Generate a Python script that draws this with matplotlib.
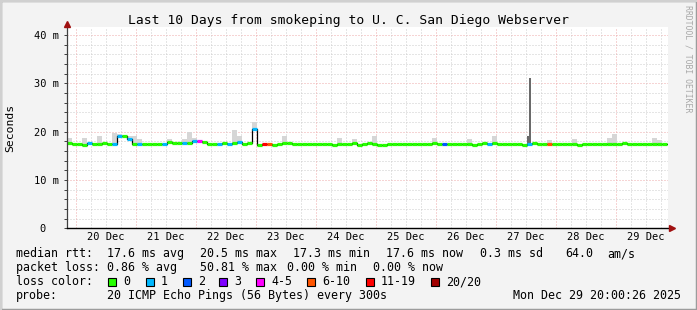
import numpy as np
import matplotlib

matplotlib.use("Agg")
import matplotlib.pyplot as plt
from matplotlib.patches import Rectangle

plt.rcParams["font.family"] = "DejaVu Sans Mono"

W, H = 697, 310

# x axis is "day of December 2025"; 2 hour bins starting 19 Dec ~20:24
start_day = 19.85
bin_days = 2 / 24

median_ms = [
    17.7, 17.5, 17.5, 17.3, 17.7, 17.5, 17.5, 17.7, 17.5, 17.5, 19.0, 19.0,
    18.5, 17.5, 17.5, 17.5, 17.5, 17.5, 17.5, 17.5, 17.8, 17.7, 17.7, 17.7,
    17.7, 18.1, 18.1, 17.9, 17.5, 17.5, 17.5, 17.7, 17.5, 17.7, 17.8, 17.5,
    17.7, 20.5, 17.3, 17.5, 17.5, 17.2, 17.5, 17.7, 17.7, 17.5, 17.5, 17.5,
    17.5, 17.5, 17.5, 17.5, 17.5, 17.3, 17.5, 17.5, 17.5, 17.7, 17.3, 17.5,
    17.7, 17.5, 17.3, 17.3, 17.5, 17.5, 17.5, 17.5, 17.5, 17.5, 17.5, 17.5,
    17.5, 17.7, 17.5, 17.5, 17.5, 17.5, 17.5, 17.5, 17.5, 17.3, 17.5, 17.7,
    17.5, 17.7, 17.5, 17.5, 17.5, 17.5, 17.5, 17.2, 17.5, 17.7, 17.5, 17.5,
    17.5, 17.5, 17.5, 17.5, 17.5, 17.5, 17.3, 17.5, 17.5, 17.5, 17.5, 17.5,
    17.5, 17.5, 17.5, 17.7, 17.5, 17.5, 17.5, 17.5, 17.5, 17.5, 17.5, 17.5,
]

# index into loss_names for every bin
loss_level = [
    0, 0, 0, 0, 1, 0, 0, 0, 0, 1, 1, 0,
    1, 0, 1, 0, 0, 0, 0, 1, 0, 0, 0, 1,
    0, 1, 4, 0, 0, 0, 1, 0, 1, 0, 1, 0,
    0, 1, 0, 6, 5, 0, 0, 0, 0, 0, 0, 0,
    0, 0, 0, 0, 0, 0, 0, 0, 0, 0, 0, 0,
    0, 0, 0, 0, 0, 0, 0, 0, 0, 0, 0, 0,
    0, 0, 0, 2, 0, 0, 0, 0, 0, 0, 0, 0,
    1, 0, 0, 0, 0, 0, 0, 0, 1, 0, 0, 0,
    5, 0, 0, 0, 0, 0, 0, 0, 0, 0, 0, 0,
    0, 0, 0, 0, 0, 0, 0, 0, 0, 0, 0, 0,
]

# light smoke (spread of the pings) above the median
smoke_bins = [0, 3, 6, 9, 10, 11, 12, 13, 14, 20, 23, 24, 25, 33, 34, 37, 43,
              54, 57, 61, 73, 80, 85, 96, 101, 108, 109, 117, 118]
smoke_top_ms = [18.6, 18.6, 19.1, 19.7, 19.6, 19.4, 19.1, 19.0, 18.4, 18.5,
                18.4, 19.9, 18.6, 20.3, 19.0, 22.0, 19.1, 18.6, 18.5, 19.0,
                18.7, 18.4, 19.1, 18.2, 18.4, 18.7, 19.5, 18.7, 18.3]

# dense smoke and single outlier on 27 Dec
dark_bins = [92]
dark_top_ms = [19.0]
peak_bins = [92]
peak_top_ms = [31.1]

day_labels = ["20 Dec", "21 Dec", "22 Dec", "23 Dec", "24 Dec",
              "25 Dec", "26 Dec", "27 Dec", "28 Dec", "29 Dec"]
y_ticks = [0, 10, 20, 30, 40]
y_labels = ["0  ", "10 m", "20 m", "30 m", "40 m"]

loss_names = ["0", "1", "2", "3", "4-5", "6-10", "11-19", "20/20"]
loss_colors = ["#26ff00", "#00b8ff", "#0059ff", "#7e00ff",
               "#ff00ff", "#ff5500", "#ff0000", "#a10000"]


def fx(x):
    return x / W


def fy(y):
    return 1 - y / H


fig = plt.figure(figsize=(W / 100, H / 100), dpi=100, facecolor="#f3f3f3")

# 3d-ish frame around the image
fig.add_artist(Rectangle((0, 0), 1, 1, transform=fig.transFigure,
                         facecolor="none", edgecolor="#9c9c9c", lw=2.5))
fig.add_artist(Rectangle((0, fy(2)), 1, 2 / H, transform=fig.transFigure,
                         facecolor="#d0d0d0", lw=0))
fig.add_artist(Rectangle((0, 0), 2 / W, 1, transform=fig.transFigure,
                         facecolor="#d0d0d0", lw=0))

x0, x1 = 67, 668
y_zero, y_top = 228.3, 27
ax = fig.add_axes([fx(x0), fy(y_zero), (x1 - x0) / W, (y_zero - y_top) / H])
ax.set_facecolor("white")
ax.set_xlim(start_day, start_day + (x1 - x0) / 60)
ax.set_ylim(0, (y_zero - y_top) / 4.8325)
for side in ax.spines.values():
    side.set_visible(False)

# grid: red every 10 m / midnight, grey every 2 m / 6 h
grid_style = dict(lw=0.72, linestyle=(0, (1, 2)), zorder=0.5)
for v in np.arange(2, 42, 2):
    ax.axhline(v, color="#eeaaaa" if v % 10 == 0 else "#cccccc", **grid_style)
for d in np.arange(20, 30, 0.25):
    ax.axvline(d, color="#eeaaaa" if d % 1 == 0 else "#cccccc", **grid_style)

edges = start_day + bin_days * np.arange(len(median_ms) + 1)
median = np.array(median_ms)

# smoke
smoke_base = median[smoke_bins]
ax.bar(edges[smoke_bins], np.array(smoke_top_ms) - smoke_base, width=bin_days,
       bottom=smoke_base, align="edge", color="#d6d6d6", lw=0, zorder=1)
dark_base = median[dark_bins]
ax.bar(edges[dark_bins], np.array(dark_top_ms) - dark_base, width=bin_days * 0.8,
       bottom=dark_base, align="edge", color="#6a6a6a", lw=0, zorder=1.1)
peak_base = median[peak_bins]
ax.bar(edges[peak_bins] + bin_days * 0.4, np.array(peak_top_ms) - peak_base,
       width=bin_days * 0.4, bottom=peak_base, align="edge", color="#6a6a6a",
       lw=0, zorder=1.1)

# median: thin black step line, then loss-coloured segments over it
ax.step(edges, np.append(median, median[-1]), where="post", color="black",
        lw=0.9, zorder=2)
ax.hlines(median, edges[:-1], edges[1:],
          colors=[loss_colors[k] for k in loss_level], lw=2.3,
          capstyle="butt", zorder=3)

# axes with arrow heads
ax.plot([0, 0], [0, (y_zero - 24) / (y_zero - y_top)], transform=ax.transAxes,
        color="#404040", lw=0.9, clip_on=False, zorder=4)
ax.plot([0, (670 - x0) / (x1 - x0)], [0, 0], transform=ax.transAxes,
        color="black", lw=1.0, clip_on=False, zorder=4)
ax.plot([0], [(y_zero - 23.5) / (y_zero - y_top)], marker="^", ms=4.2,
        color="#a01010", transform=ax.transAxes, clip_on=False, zorder=5)
ax.plot([(671.5 - x0) / (x1 - x0)], [0], marker=">", ms=4.2,
        color="#a01010", transform=ax.transAxes, clip_on=False, zorder=5)

ax.set_xticks(np.arange(20, 30) + 0.5, day_labels)
ax.tick_params(axis="x", length=0, pad=3.0, labelsize=7.5)
ax.set_yticks(y_ticks, y_labels)
ax.set_yticks(np.arange(0, 42, 2), minor=True)
ax.tick_params(axis="y", which="both", length=2.5, width=0.7, color="#404040",
               pad=3.2, labelsize=7.5)

fig.text(fx(10.5), fy(127.5), "Seconds", rotation=90, ha="center",
         va="center", fontsize=8.2)
fig.text(0.5, fy(24), "Last 10 Days from smokeping to U. C. San Diego Webserver",
         ha="center", va="baseline", fontsize=9.4)
fig.text(fx(688), fy(5), "RRDTOOL / TOBI OETIKER", rotation=270, ha="center",
         va="top", fontsize=5.9, color="#a8a8a8")

legend_font = 8.4
rows = [
    (257.3, [(16, "median rtt:"), (107.3, "17.6 ms avg"), (200, "20.5 ms max"),
             (293.3, "17.3 ms min"), (386, "17.6 ms now"), (480, "0.3 ms sd"),
             (565, "64.0"), (607.3, "am/s")]),
    (271.3, [(16, "packet loss:"), (107.3, "0.86 % avg"), (200, "50.81 % max"),
             (286.7, "0.00 % min"), (372.7, "0.00 % now")]),
    (285.3, [(16, "loss color:")]),
    (299.0, [(16, "probe:"), (107.3, "20 ICMP Echo Pings (56 Bytes) every 300s"),
             (513.3, "Mon Dec 29 20:00:26 2025")]),
]
for baseline, items in rows:
    for x, s in items:
        fig.text(fx(x), fy(baseline), s, ha="left", va="baseline",
                 fontsize=legend_font)

box_x = [108.3, 145.7, 182.7, 219.3, 256, 307.3, 365.7, 431]
for bx, name, color in zip(box_x, loss_names, loss_colors):
    fig.add_artist(Rectangle((fx(bx), fy(286)), 8 / W, 8 / H,
                             transform=fig.transFigure, facecolor=color,
                             edgecolor="black", lw=0.8))
    fig.text(fx(bx + 15), fy(285.3), name, ha="left", va="baseline",
             fontsize=legend_font)

fig.savefig("out.png", dpi=100, facecolor=fig.get_facecolor())
